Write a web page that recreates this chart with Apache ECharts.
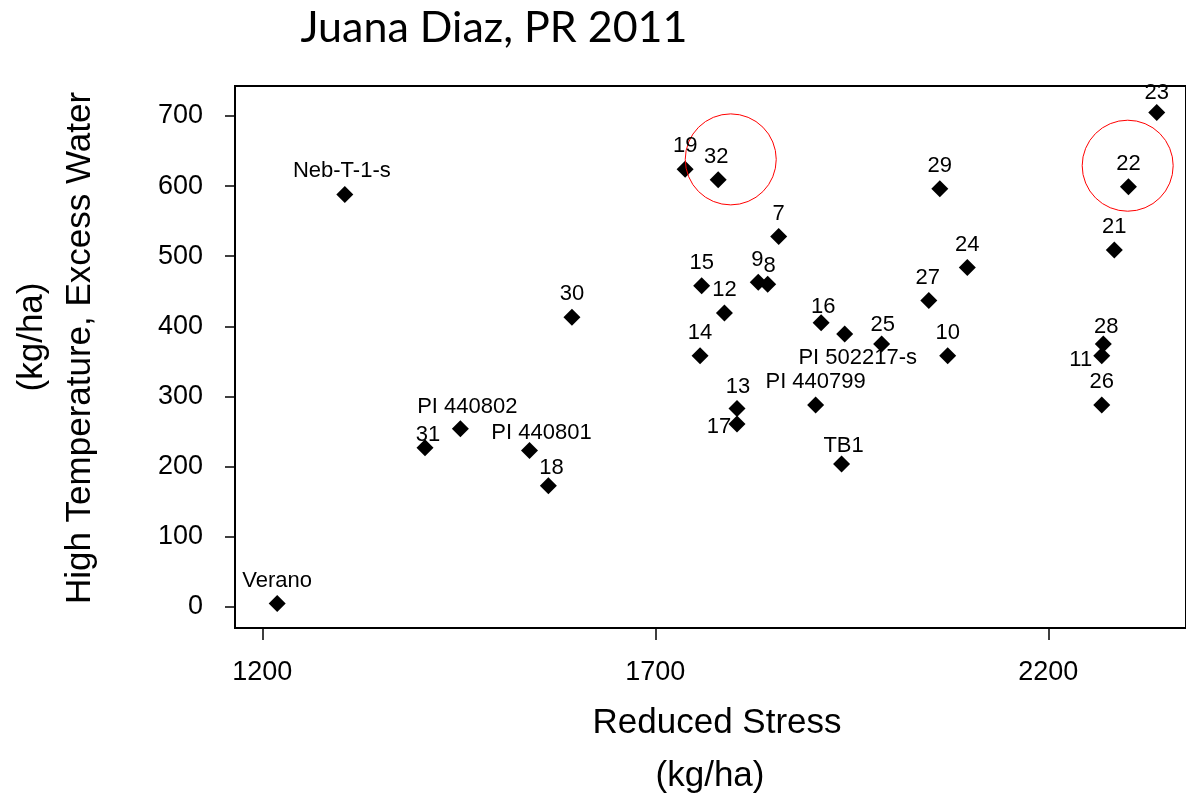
<!DOCTYPE html>
<html>
<head>
<meta charset="utf-8">
<title>Juana Diaz, PR 2011</title>
<script src="https://cdn.jsdelivr.net/npm/echarts@6/dist/echarts.min.js"></script>
<style>
  html, body { margin: 0; padding: 0; background: #fff; }
  #chart { width: 1186px; height: 797px; }
</style>
</head>
<body>
<div id="chart"></div>
<script>
// genotype names, yield under reduced stress (x) and under high temp / excess water (y)
const names = ['Verano', 'Neb-T-1-s', '31', 'PI 440802', 'PI 440801', '18', '30', '19', '32', '15', '14',
  '12', '13', '17', '9', '8', '7', 'PI 440799', '16', 'PI 502217-s', 'TB1', '25', '27', '29', '10', '24',
  '11', '28', '26', '21', '22', '23'];
const reducedStress = [1219, 1305, 1407, 1452, 1540, 1564, 1594, 1738, 1780, 1759, 1757,
  1788, 1804, 1804, 1831, 1843, 1857, 1904, 1911, 1941, 1937, 1988, 2048, 2062, 2072, 2097,
  2268, 2270, 2268, 2284, 2302, 2338];
const highTempWater = [5, 588, 227, 254, 223, 173, 413, 624, 609, 458, 358,
  419, 283, 261, 463, 460, 528, 288, 405, 389, 204, 375, 437, 596, 358, 484,
  358, 375, 288, 509, 599, 705];

// highlighted areas (red circles)
const highlights = [[1796, 638], [2301, 629]];

const xTicks = [1200, 1700, 2200];
const yTicks = [0, 100, 200, 300, 400, 500, 600, 700];

// label placement tweaks (pixels, relative to the marker)
const labelOffsets = {
  'Neb-T-1-s': [-3, -24], '32': [-2, -23], '23': [0, -19], '9': [-1, -22], '8': [2, -18],
  '16': [2, -16], '25': [1, -19], '28': [3, -17], '11': [-21, 4], '17': [-18, 3],
  'PI 502217-s': [13, 24], 'TB1': [2, -18], '31': [3, -13], 'PI 440802': [7, -22],
  'PI 440801': [12, -18], '18': [3, -18], '27': [-1, -22], '13': [1, -22]
};

const font = 'Liberation Sans, Arial, sans-serif';

const points = names.map((n, i) => ({
  name: n,
  value: [reducedStress[i], highTempWater[i]],
  label: { offset: labelOffsets[n] || [0, -23] }
}));

const chart = echarts.init(document.getElementById('chart'));

const option = {
  backgroundColor: '#fff',
  animation: false,
  grid: {
    left: 235, top: 86, right: -3, bottom: 169,
    show: true, borderColor: '#000', borderWidth: 2, backgroundColor: 'transparent'
  },
  xAxis: {
    type: 'value',
    min: 1165.3, max: 2375.2,
    splitLine: { show: false },
    axisLine: { show: false, onZero: false },
    axisTick: { show: true, inside: false, length: 12, lineStyle: { color: '#000', width: 1.5 }, customValues: xTicks },
    axisLabel: {
      customValues: xTicks, color: '#000', fontSize: 27, fontFamily: font, margin: 31,
      formatter: v => String(v)
    }
  },
  yAxis: {
    type: 'value',
    min: -29.9, max: 742.6,
    splitLine: { show: false },
    axisLine: { show: false, onZero: false },
    axisTick: { show: true, inside: false, length: 10, lineStyle: { color: '#000', width: 1.5 }, customValues: yTicks },
    axisLabel: {
      customValues: yTicks, color: '#000', fontSize: 27, fontFamily: font, margin: 32,
      formatter: v => String(v)
    }
  },
  graphic: [
    { type: 'text', x: 494, y: 28, style: { text: 'Juana Diaz, PR 2011', font: '43px Lato, sans-serif', fill: '#000', textAlign: 'center', textVerticalAlign: 'middle' } },
    { type: 'text', x: 717, y: 723, style: { text: 'Reduced Stress', font: '35px ' + font, fill: '#000', textAlign: 'center', textVerticalAlign: 'middle' } },
    { type: 'text', x: 710, y: 776, style: { text: '(kg/ha)', font: '35px ' + font, fill: '#000', textAlign: 'center', textVerticalAlign: 'middle' } },
    { type: 'text', x: 80, y: 348, rotation: Math.PI / 2, style: { text: 'High Temperature, Excess Water', font: '35px ' + font, fill: '#000', textAlign: 'center', textVerticalAlign: 'middle' } },
    { type: 'text', x: 32, y: 337, rotation: Math.PI / 2, style: { text: '(kg/ha)', font: '35px ' + font, fill: '#000', textAlign: 'center', textVerticalAlign: 'middle' } }
  ],
  series: [
    {
      type: 'scatter',
      symbol: 'diamond',
      symbolSize: 17,
      itemStyle: { color: '#000', opacity: 1 },
      label: {
        show: true,
        position: 'inside',
        formatter: '{b}',
        color: '#000',
        opacity: 1,
        fontSize: 22,
        fontFamily: font
      },
      data: points
    },
    {
      type: 'scatter',
      symbol: 'circle',
      symbolSize: 91,
      silent: true,
      itemStyle: { color: 'transparent', borderColor: '#ff0000', borderWidth: 1, opacity: 1 },
      data: highlights
    }
  ]
};

chart.setOption(option);
</script>
</body>
</html>
